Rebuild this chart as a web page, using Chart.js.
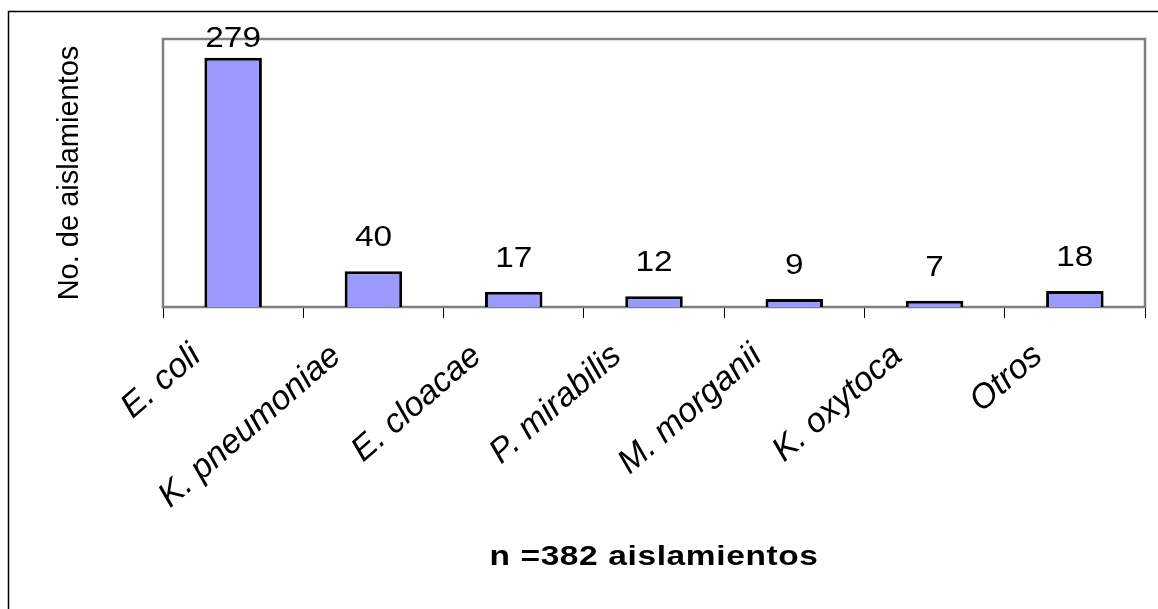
<!DOCTYPE html>
<html>
<head>
<meta charset="utf-8">
<script src="https://cdn.jsdelivr.net/npm/chart.js@4.4.1/dist/chart.umd.min.js"></script>
<style>
  html, body { margin: 0; padding: 0; background: #fff; }
  #wrap { width: 1158px; height: 609px; position: relative; }
</style>
</head>
<body>
<div id="wrap"><canvas id="c" width="1158" height="609"></canvas></div>
<script>
// Isolates by organism
const categories = ['E. coli', 'K. pneumoniae', 'E. cloacae', 'P. mirabilis', 'M. morganii', 'K. oxytoca', 'Otros'];
const isolates = [279, 40, 17, 12, 9, 7, 18];
const yAxisTitle = 'No. de aislamientos';
const xAxisTitle = 'n =382 aislamientos';

const FONT = '"Liberation Sans", Arial, Helvetica, sans-serif';

// Draw text with glyphs widened horizontally by factor sx, centred at x
function wideText(ctx, text, x, y, sx) {
  ctx.save();
  ctx.translate(x, y);
  ctx.scale(sx, 1);
  ctx.textAlign = 'center';
  ctx.fillText(text, 0, 0);
  ctx.restore();
}

// Frame lines along the left and top edges of the figure
const framePlugin = {
  id: 'frame',
  afterDraw(chart) {
    const ctx = chart.ctx;
    ctx.save();
    ctx.strokeStyle = '#000';
    ctx.lineWidth = 1.5;
    ctx.beginPath();
    ctx.moveTo(8.5, 609);
    ctx.lineTo(8.5, 11.5);
    ctx.lineTo(1158, 11.5);
    ctx.stroke();
    ctx.restore();
  }
};

// Grey box around the plotting area
const plotBoxPlugin = {
  id: 'plotBox',
  beforeDatasetsDraw(chart) {
    const { ctx, chartArea: a } = chart;
    ctx.save();
    ctx.strokeStyle = '#808080';
    ctx.lineWidth = 2.5;
    ctx.strokeRect(a.left, a.top, a.right - a.left, a.bottom - a.top);
    ctx.restore();
  }
};

// Value printed above each bar
const valueLabelPlugin = {
  id: 'valueLabels',
  afterDatasetsDraw(chart) {
    const { ctx, chartArea: a } = chart;
    const meta = chart.getDatasetMeta(0);
    ctx.save();
    ctx.fillStyle = '#000';
    ctx.font = '29px ' + FONT;
    ctx.textBaseline = 'alphabetic';
    meta.data.forEach((bar, i) => {
      const v = chart.data.datasets[0].data[i];
      let y = bar.y - 25;
      if (y < a.top + 8) y = a.top + 8;
      wideText(ctx, String(v), bar.x, y, 1.15);
    });
    ctx.restore();
  }
};

// Bold axis caption centred under the category labels
const xCaptionPlugin = {
  id: 'xCaption',
  afterDraw(chart) {
    const { ctx, chartArea: a } = chart;
    ctx.save();
    ctx.fillStyle = '#000';
    ctx.font = 'bold 27px ' + FONT;
    ctx.letterSpacing = '0.5px';
    ctx.textBaseline = 'alphabetic';
    wideText(ctx, xAxisTitle, (a.left + a.right) / 2, 565, 1.24);
    ctx.restore();
  }
};

new Chart(document.getElementById('c'), {
  type: 'bar',
  data: {
    labels: categories,
    datasets: [{
      data: isolates,
      backgroundColor: '#9999FF',
      borderColor: '#000000',
      borderWidth: 3,
      borderSkipped: 'start',
      categoryPercentage: 1.0,
      barPercentage: 0.41
    }]
  },
  options: {
    responsive: false,
    animation: false,
    devicePixelRatio: 1,
    layout: { padding: { left: 0, right: 13, top: 39, bottom: 0 } },
    plugins: {
      legend: { display: false },
      tooltip: { enabled: false },
      title: { display: false }
    },
    scales: {
      x: {
        type: 'category',
        offset: true,
        afterFit(scale) { scale.height = 302; },
        grid: {
          display: true,
          offset: true,
          drawOnChartArea: false,
          drawTicks: true,
          tickLength: 11,
          color: '#000',
          lineWidth: 1
        },
        border: { display: true, color: '#6e6e6e', width: 2 },
        ticks: {
          autoSkip: false,
          minRotation: 41,
          maxRotation: 41,
          labelOffset: -37,
          padding: 18,
          color: '#000',
          font: { family: FONT, size: 34, style: 'italic' }
        },
        title: { display: false }
      },
      y: {
        min: 0,
        max: 300,
        afterFit(scale) { scale.width = 163; },
        grid: { display: false },
        border: { display: true, color: '#808080', width: 2 },
        ticks: { display: false },
        title: {
          display: true,
          text: yAxisTitle,
          color: '#000',
          font: { family: FONT, size: 29 },
          padding: { top: 53, bottom: 0 }
        }
      }
    }
  },
  plugins: [framePlugin, plotBoxPlugin, valueLabelPlugin, xCaptionPlugin]
});
</script>
</body>
</html>
